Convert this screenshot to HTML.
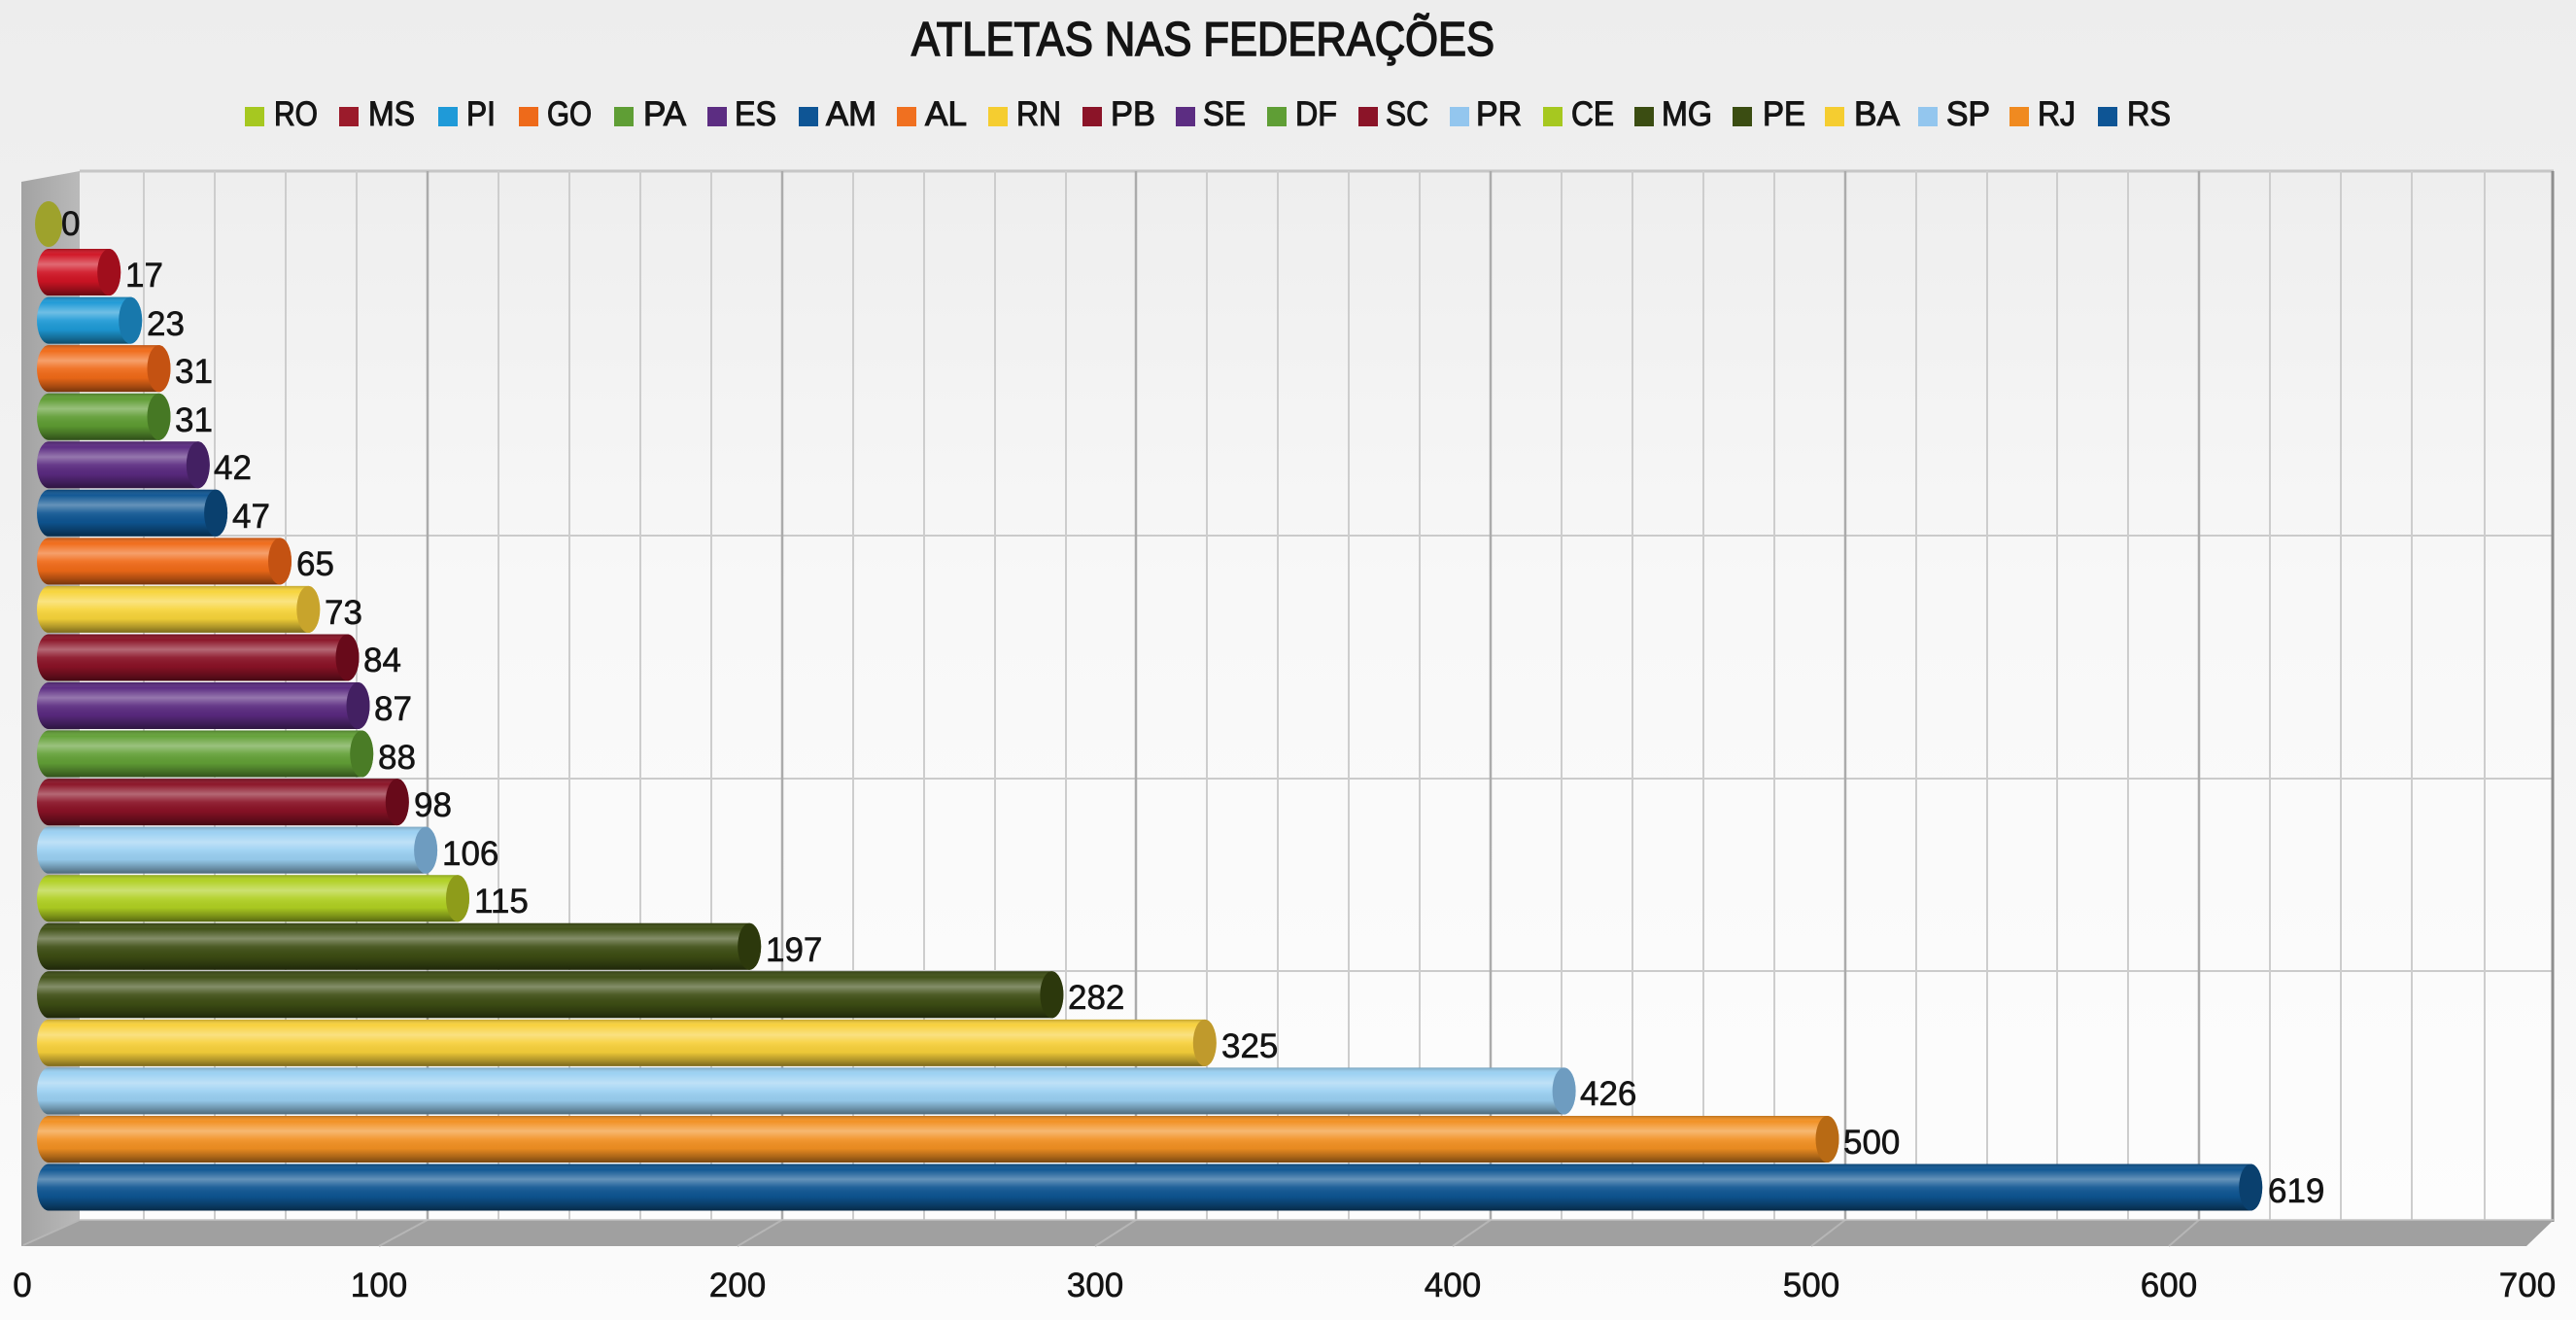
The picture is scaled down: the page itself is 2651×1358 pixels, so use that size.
<!DOCTYPE html>
<html><head><meta charset="utf-8"><style>
html,body{margin:0;padding:0;width:2651px;height:1358px;overflow:hidden;background:#f3f3f3}
svg{display:block}
text{font-family:"Liberation Sans",Arial,sans-serif;fill:#141414}
</style></head><body>
<svg width="2651" height="1358" viewBox="0 0 2651 1358" xmlns="http://www.w3.org/2000/svg">
<defs>
<linearGradient id="bg" x1="0" y1="0" x2="0" y2="1">
<stop offset="0" stop-color="#ededed"/><stop offset="0.5" stop-color="#f4f4f4"/><stop offset="1" stop-color="#fbfbfb"/>
</linearGradient>
<linearGradient id="wall" x1="0" y1="0" x2="0" y2="1">
<stop offset="0" stop-color="#eeeeee"/><stop offset="0.4" stop-color="#f8f8f8"/><stop offset="1" stop-color="#fdfdfd"/>
</linearGradient>
<linearGradient id="side" x1="0" y1="0" x2="1" y2="0">
<stop offset="0" stop-color="#a2a2a2"/><stop offset="1" stop-color="#bababa"/>
</linearGradient>
<linearGradient id="sh" x1="0" y1="0" x2="0" y2="1">
<stop offset="0" stop-color="#000" stop-opacity="0.22"/>
<stop offset="0.12" stop-color="#fff" stop-opacity="0.02"/>
<stop offset="0.33" stop-color="#fff" stop-opacity="0.36"/>
<stop offset="0.5" stop-color="#fff" stop-opacity="0.08"/>
<stop offset="0.7" stop-color="#000" stop-opacity="0.04"/>
<stop offset="0.88" stop-color="#000" stop-opacity="0.3"/>
<stop offset="1" stop-color="#000" stop-opacity="0.5"/>
</linearGradient>
</defs>
<rect x="0" y="0" width="2651" height="1358" fill="url(#bg)"/>

<!-- Title -->
<text x="1238" y="57" text-anchor="middle" font-size="49" textLength="600" lengthAdjust="spacingAndGlyphs" stroke="#141414" stroke-width="1.6">ATLETAS NAS FEDERAÇÕES</text>

<!-- Legend -->
<g font-size="35" stroke="#141414" stroke-width="1.1">
<rect x="252" y="110" width="20" height="20" fill="#a6c820" stroke="none"/><text x="282" y="129" textLength="45" lengthAdjust="spacingAndGlyphs">RO</text>
<rect x="349" y="110" width="20" height="20" fill="#9b1b2b" stroke="none"/><text x="379" y="129" textLength="48" lengthAdjust="spacingAndGlyphs">MS</text>
<rect x="451" y="110" width="20" height="20" fill="#1f9ad8" stroke="none"/><text x="480" y="129" textLength="30" lengthAdjust="spacingAndGlyphs">PI</text>
<rect x="534" y="110" width="20" height="20" fill="#ee6a1a" stroke="none"/><text x="563" y="129" textLength="46" lengthAdjust="spacingAndGlyphs">GO</text>
<rect x="632" y="110" width="20" height="20" fill="#5f9e35" stroke="none"/><text x="662" y="129" textLength="44" lengthAdjust="spacingAndGlyphs">PA</text>
<rect x="728" y="110" width="20" height="20" fill="#5c2d82" stroke="none"/><text x="756" y="129" textLength="43" lengthAdjust="spacingAndGlyphs">ES</text>
<rect x="822" y="110" width="20" height="20" fill="#0e5595" stroke="none"/><text x="850" y="129" textLength="52" lengthAdjust="spacingAndGlyphs">AM</text>
<rect x="923" y="110" width="20" height="20" fill="#f07020" stroke="none"/><text x="952" y="129" textLength="43" lengthAdjust="spacingAndGlyphs">AL</text>
<rect x="1017" y="110" width="20" height="20" fill="#f5cd30" stroke="none"/><text x="1046" y="129" textLength="46" lengthAdjust="spacingAndGlyphs">RN</text>
<rect x="1114" y="110" width="20" height="20" fill="#8b1428" stroke="none"/><text x="1143" y="129" textLength="46" lengthAdjust="spacingAndGlyphs">PB</text>
<rect x="1210" y="110" width="20" height="20" fill="#5c2d82" stroke="none"/><text x="1238" y="129" textLength="44" lengthAdjust="spacingAndGlyphs">SE</text>
<rect x="1304" y="110" width="20" height="20" fill="#5f9e35" stroke="none"/><text x="1333" y="129" textLength="43" lengthAdjust="spacingAndGlyphs">DF</text>
<rect x="1398" y="110" width="20" height="20" fill="#8b1428" stroke="none"/><text x="1426" y="129" textLength="44" lengthAdjust="spacingAndGlyphs">SC</text>
<rect x="1492" y="110" width="20" height="20" fill="#93c6ee" stroke="none"/><text x="1519" y="129" textLength="47" lengthAdjust="spacingAndGlyphs">PR</text>
<rect x="1588" y="110" width="20" height="20" fill="#a6c820" stroke="none"/><text x="1617" y="129" textLength="44" lengthAdjust="spacingAndGlyphs">CE</text>
<rect x="1682" y="110" width="20" height="20" fill="#3b4d12" stroke="none"/><text x="1710" y="129" textLength="52" lengthAdjust="spacingAndGlyphs">MG</text>
<rect x="1783" y="110" width="20" height="20" fill="#3b4d12" stroke="none"/><text x="1814" y="129" textLength="44" lengthAdjust="spacingAndGlyphs">PE</text>
<rect x="1878" y="110" width="20" height="20" fill="#f5cd30" stroke="none"/><text x="1908" y="129" textLength="47" lengthAdjust="spacingAndGlyphs">BA</text>
<rect x="1974" y="110" width="20" height="20" fill="#93c6ee" stroke="none"/><text x="2003" y="129" textLength="45" lengthAdjust="spacingAndGlyphs">SP</text>
<rect x="2068" y="110" width="20" height="20" fill="#f08a20" stroke="none"/><text x="2097" y="129" textLength="39" lengthAdjust="spacingAndGlyphs">RJ</text>
<rect x="2159" y="110" width="20" height="20" fill="#0e5595" stroke="none"/><text x="2189" y="129" textLength="45" lengthAdjust="spacingAndGlyphs">RS</text>
</g>

<!-- Back wall -->
<rect x="82" y="175" width="2546" height="1080" fill="url(#wall)"/>
<line x1="82" y1="176" x2="2628" y2="176" stroke="#c6c6c6" stroke-width="3"/>
<g stroke="#cbcbcb" stroke-width="2">
<line x1="82" y1="551" x2="2628" y2="551"/>
<line x1="82" y1="801" x2="2628" y2="801"/>
<line x1="82" y1="999" x2="2628" y2="999"/>
</g>
<g stroke="#cdcdcd" stroke-width="2">
<line x1="148" y1="176" x2="148" y2="1255"/><line x1="221" y1="176" x2="221" y2="1255"/><line x1="294" y1="176" x2="294" y2="1255"/><line x1="367" y1="176" x2="367" y2="1255"/>
<line x1="513" y1="176" x2="513" y2="1255"/><line x1="586" y1="176" x2="586" y2="1255"/><line x1="659" y1="176" x2="659" y2="1255"/><line x1="732" y1="176" x2="732" y2="1255"/>
<line x1="878" y1="176" x2="878" y2="1255"/><line x1="951" y1="176" x2="951" y2="1255"/><line x1="1024" y1="176" x2="1024" y2="1255"/><line x1="1097" y1="176" x2="1097" y2="1255"/>
<line x1="1242" y1="176" x2="1242" y2="1255"/><line x1="1315" y1="176" x2="1315" y2="1255"/><line x1="1388" y1="176" x2="1388" y2="1255"/><line x1="1461" y1="176" x2="1461" y2="1255"/>
<line x1="1607" y1="176" x2="1607" y2="1255"/><line x1="1680" y1="176" x2="1680" y2="1255"/><line x1="1753" y1="176" x2="1753" y2="1255"/><line x1="1826" y1="176" x2="1826" y2="1255"/>
<line x1="1972" y1="176" x2="1972" y2="1255"/><line x1="2045" y1="176" x2="2045" y2="1255"/><line x1="2117" y1="176" x2="2117" y2="1255"/><line x1="2190" y1="176" x2="2190" y2="1255"/>
<line x1="2336" y1="176" x2="2336" y2="1255"/><line x1="2409" y1="176" x2="2409" y2="1255"/><line x1="2482" y1="176" x2="2482" y2="1255"/><line x1="2557" y1="176" x2="2557" y2="1255"/>
</g>
<g stroke="#ababab" stroke-width="2.5">
<line x1="440" y1="176" x2="440" y2="1255"/><line x1="805" y1="176" x2="805" y2="1255"/><line x1="1169" y1="176" x2="1169" y2="1255"/>
<line x1="1534" y1="176" x2="1534" y2="1255"/><line x1="1899" y1="176" x2="1899" y2="1255"/><line x1="2263" y1="176" x2="2263" y2="1255"/>
</g>
<line x1="2627" y1="176" x2="2627" y2="1257" stroke="#8e8e8e" stroke-width="3"/>

<!-- Side wall -->
<polygon points="22,187 82,176 82,1255 22,1282" fill="url(#side)"/>
<!-- Floor -->
<polygon points="22,1282 2600,1282 2628,1255 82,1255" fill="#a0a0a0"/>
<g stroke="#b6b6b6" stroke-width="2">
<line x1="82" y1="1255" x2="24" y2="1281"/>
<line x1="440" y1="1255" x2="390" y2="1282"/><line x1="805" y1="1255" x2="759" y2="1282"/><line x1="1169" y1="1255" x2="1127" y2="1282"/>
<line x1="1534" y1="1255" x2="1495" y2="1282"/><line x1="1899" y1="1255" x2="1864" y2="1282"/><line x1="2263" y1="1255" x2="2232" y2="1282"/>
</g>
<line x1="82" y1="1255" x2="2628" y2="1255" stroke="#c4c4c4" stroke-width="1.5"/>

<!-- Bars -->
<g font-size="35" stroke="#141414" stroke-width="0.6">
<ellipse cx="50" cy="230.5" rx="14" ry="23.5" fill="#9ea22c" stroke="none"/>
<text x="63" y="242">0</text>
</g>
<g>
<path d="M50,256.05 H112.2 A12,24 0 0 1 112.2,304.05 H50 A12,24 0 0 1 50,256.05 Z" fill="#d01424"/>
<path d="M50,256.05 H112.2 A12,24 0 0 1 112.2,304.05 H50 A12,24 0 0 1 50,256.05 Z" fill="url(#sh)"/>
<ellipse cx="112.2" cy="280.05" rx="12" ry="24" fill="#a00e1c"/>

<path d="M50,305.6 H134.2 A12,24 0 0 1 134.2,353.6 H50 A12,24 0 0 1 50,305.6 Z" fill="#1e9ad6"/>
<path d="M50,305.6 H134.2 A12,24 0 0 1 134.2,353.6 H50 A12,24 0 0 1 50,305.6 Z" fill="url(#sh)"/>
<ellipse cx="134.2" cy="329.6" rx="12" ry="24" fill="#1878ac"/>

<path d="M50,355.15 H163.5 A12,24 0 0 1 163.5,403.15 H50 A12,24 0 0 1 50,355.15 Z" fill="#f06a18"/>
<path d="M50,355.15 H163.5 A12,24 0 0 1 163.5,403.15 H50 A12,24 0 0 1 50,355.15 Z" fill="url(#sh)"/>
<ellipse cx="163.5" cy="379.15" rx="12" ry="24" fill="#c45212"/>

<path d="M50,404.7 H163.5 A12,24 0 0 1 163.5,452.7 H50 A12,24 0 0 1 50,404.7 Z" fill="#5e9c32"/>
<path d="M50,404.7 H163.5 A12,24 0 0 1 163.5,452.7 H50 A12,24 0 0 1 50,404.7 Z" fill="url(#sh)"/>
<ellipse cx="163.5" cy="428.7" rx="12" ry="24" fill="#467824"/>

<path d="M50,454.25 H203.8 A12,24 0 0 1 203.8,502.25 H50 A12,24 0 0 1 50,454.25 Z" fill="#5a2a80"/>
<path d="M50,454.25 H203.8 A12,24 0 0 1 203.8,502.25 H50 A12,24 0 0 1 50,454.25 Z" fill="url(#sh)"/>
<ellipse cx="203.8" cy="478.25" rx="12" ry="24" fill="#432062"/>

<path d="M50,503.8 H222.1 A12,24 0 0 1 222.1,551.8 H50 A12,24 0 0 1 50,503.8 Z" fill="#0e5592"/>
<path d="M50,503.8 H222.1 A12,24 0 0 1 222.1,551.8 H50 A12,24 0 0 1 50,503.8 Z" fill="url(#sh)"/>
<ellipse cx="222.1" cy="527.8" rx="12" ry="24" fill="#0a406e"/>

<path d="M50,553.35 H288 A12,24 0 0 1 288,601.35 H50 A12,24 0 0 1 50,553.35 Z" fill="#f06a18"/>
<path d="M50,553.35 H288 A12,24 0 0 1 288,601.35 H50 A12,24 0 0 1 50,553.35 Z" fill="url(#sh)"/>
<ellipse cx="288" cy="577.35" rx="12" ry="24" fill="#c45212"/>

<path d="M50,602.9 H317.3 A12,24 0 0 1 317.3,650.9 H50 A12,24 0 0 1 50,602.9 Z" fill="#f7d43a"/>
<path d="M50,602.9 H317.3 A12,24 0 0 1 317.3,650.9 H50 A12,24 0 0 1 50,602.9 Z" fill="url(#sh)"/>
<ellipse cx="317.3" cy="626.9" rx="12" ry="24" fill="#c8a42c"/>

<path d="M50,652.45 H357.5 A12,24 0 0 1 357.5,700.45 H50 A12,24 0 0 1 50,652.45 Z" fill="#8a1226"/>
<path d="M50,652.45 H357.5 A12,24 0 0 1 357.5,700.45 H50 A12,24 0 0 1 50,652.45 Z" fill="url(#sh)"/>
<ellipse cx="357.5" cy="676.45" rx="12" ry="24" fill="#680a1a"/>

<path d="M50,702 H368.5 A12,24 0 0 1 368.5,750 H50 A12,24 0 0 1 50,702 Z" fill="#5a2a80"/>
<path d="M50,702 H368.5 A12,24 0 0 1 368.5,750 H50 A12,24 0 0 1 50,702 Z" fill="url(#sh)"/>
<ellipse cx="368.5" cy="726" rx="12" ry="24" fill="#432062"/>

<path d="M50,751.55 H372.2 A12,24 0 0 1 372.2,799.55 H50 A12,24 0 0 1 50,751.55 Z" fill="#62a036"/>
<path d="M50,751.55 H372.2 A12,24 0 0 1 372.2,799.55 H50 A12,24 0 0 1 50,751.55 Z" fill="url(#sh)"/>
<ellipse cx="372.2" cy="775.55" rx="12" ry="24" fill="#4a7c26"/>

<path d="M50,801.1 H408.8 A12,24 0 0 1 408.8,849.1 H50 A12,24 0 0 1 50,801.1 Z" fill="#8a1226"/>
<path d="M50,801.1 H408.8 A12,24 0 0 1 408.8,849.1 H50 A12,24 0 0 1 50,801.1 Z" fill="url(#sh)"/>
<ellipse cx="408.8" cy="825.1" rx="12" ry="24" fill="#680a1a"/>

<path d="M50,850.65 H438.1 A12,24 0 0 1 438.1,898.65 H50 A12,24 0 0 1 50,850.65 Z" fill="#9ad0f2"/>
<path d="M50,850.65 H438.1 A12,24 0 0 1 438.1,898.65 H50 A12,24 0 0 1 50,850.65 Z" fill="url(#sh)"/>
<ellipse cx="438.1" cy="874.65" rx="12" ry="24" fill="#6e9cc0"/>

<path d="M50,900.2 H471 A12,24 0 0 1 471,948.2 H50 A12,24 0 0 1 50,900.2 Z" fill="#b0d022"/>
<path d="M50,900.2 H471 A12,24 0 0 1 471,948.2 H50 A12,24 0 0 1 50,900.2 Z" fill="url(#sh)"/>
<ellipse cx="471" cy="924.2" rx="12" ry="24" fill="#8e9c1a"/>

<path d="M50,949.75 H771.2 A12,24 0 0 1 771.2,997.75 H50 A12,24 0 0 1 50,949.75 Z" fill="#3e4e14"/>
<path d="M50,949.75 H771.2 A12,24 0 0 1 771.2,997.75 H50 A12,24 0 0 1 50,949.75 Z" fill="url(#sh)"/>
<ellipse cx="771.2" cy="973.75" rx="12" ry="24" fill="#2c380c"/>

<path d="M50,999.3 H1082.4 A12,24 0 0 1 1082.4,1047.3 H50 A12,24 0 0 1 50,999.3 Z" fill="#3e4e14"/>
<path d="M50,999.3 H1082.4 A12,24 0 0 1 1082.4,1047.3 H50 A12,24 0 0 1 50,999.3 Z" fill="url(#sh)"/>
<ellipse cx="1082.4" cy="1023.3" rx="12" ry="24" fill="#2c380c"/>

<path d="M50,1048.85 H1239.8 A12,24 0 0 1 1239.8,1096.85 H50 A12,24 0 0 1 50,1048.85 Z" fill="#f7d03a"/>
<path d="M50,1048.85 H1239.8 A12,24 0 0 1 1239.8,1096.85 H50 A12,24 0 0 1 50,1048.85 Z" fill="url(#sh)"/>
<ellipse cx="1239.8" cy="1072.85" rx="12" ry="24" fill="#c09a2c"/>

<path d="M50,1098.4 H1609.6 A12,24 0 0 1 1609.6,1146.4 H50 A12,24 0 0 1 50,1098.4 Z" fill="#9ad0f2"/>
<path d="M50,1098.4 H1609.6 A12,24 0 0 1 1609.6,1146.4 H50 A12,24 0 0 1 50,1098.4 Z" fill="url(#sh)"/>
<ellipse cx="1609.6" cy="1122.4" rx="12" ry="24" fill="#6e9cc0"/>

<path d="M50,1147.95 H1880.5 A12,24 0 0 1 1880.5,1195.95 H50 A12,24 0 0 1 50,1147.95 Z" fill="#f29022"/>
<path d="M50,1147.95 H1880.5 A12,24 0 0 1 1880.5,1195.95 H50 A12,24 0 0 1 50,1147.95 Z" fill="url(#sh)"/>
<ellipse cx="1880.5" cy="1171.95" rx="12" ry="24" fill="#b86a14"/>

<path d="M50,1197.5 H2316.2 A12,24 0 0 1 2316.2,1245.5 H50 A12,24 0 0 1 50,1197.5 Z" fill="#0e5592"/>
<path d="M50,1197.5 H2316.2 A12,24 0 0 1 2316.2,1245.5 H50 A12,24 0 0 1 50,1197.5 Z" fill="url(#sh)"/>
<ellipse cx="2316.2" cy="1221.5" rx="12" ry="24" fill="#0a406e"/>
</g>

<!-- Value labels -->
<g font-size="35" stroke="#141414" stroke-width="0.6">
<text x="129" y="295">17</text>
<text x="151" y="345">23</text>
<text x="180" y="394">31</text>
<text x="180" y="444">31</text>
<text x="220" y="493">42</text>
<text x="239" y="543">47</text>
<text x="305" y="592">65</text>
<text x="334" y="642">73</text>
<text x="374" y="691">84</text>
<text x="385" y="741">87</text>
<text x="389" y="791">88</text>
<text x="426" y="840">98</text>
<text x="455" y="890">106</text>
<text x="488" y="939">115</text>
<text x="788" y="989">197</text>
<text x="1099" y="1038">282</text>
<text x="1257" y="1088">325</text>
<text x="1626" y="1137">426</text>
<text x="1897" y="1187">500</text>
<text x="2334" y="1237">619</text>
</g>

<!-- Axis labels -->
<g font-size="35" text-anchor="middle" stroke="#141414" stroke-width="0.6">
<text x="23" y="1334">0</text>
<text x="390" y="1334">100</text>
<text x="759" y="1334">200</text>
<text x="1127" y="1334">300</text>
<text x="1495" y="1334">400</text>
<text x="1864" y="1334">500</text>
<text x="2232" y="1334">600</text>
<text x="2601" y="1334">700</text>
</g>
</svg>
</body></html>
